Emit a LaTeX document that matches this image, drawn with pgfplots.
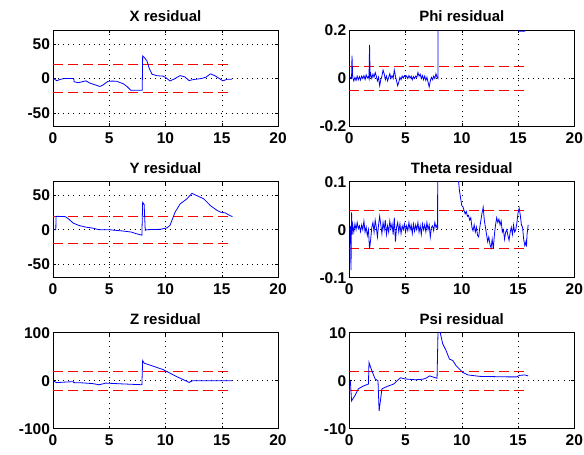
\documentclass[border=0pt]{standalone}
\usepackage{fontspec}
\setmainfont{Liberation Sans}
\usepackage{pgfplots}
\pgfplotsset{compat=1.18}
\pgfplotsset{
  resid/.style={
    scale only axis, width=225bp, height=96bp,
    xmin=0, xmax=20, xtick={0,5,10,15,20}, xticklabels={0,5,10,15,20},
    tick align=inside, major tick length=3bp,
    grid=major, major grid style={black, line width=0.5bp, dash pattern=on 0.6bp off 4.5bp},
    axis line style={line width=0.6bp},
    tick style={black, line width=0.5bp},
    every tick label/.append style={font=\fontsize{15.5bp}{18bp}\selectfont\bfseries},
    xticklabel style={yshift=-2.5bp},
    yticklabel style={xshift=0.5bp},
    title style={font=\fontsize{15bp}{18bp}\selectfont\bfseries, yshift=-1bp},
    anchor=south west,
  },
  bl/.style={blue, line width=0.8bp, no markers},
  rd/.style={red, line width=0.8bp, dash pattern=on 10bp off 5bp, no markers},
}
\begin{document}
\begin{tikzpicture}
\useasboundingbox (0,0) rectangle (584bp,455bp);
% X residual
\begin{axis}[resid, at={(53bp,328.5bp)}, ymin=-70, ymax=70, ytick={-50,0,50}, yticklabels={-50,0,50}, title={X residual}]
\addplot[rd] coordinates {(0,20) (16,20)};
\addplot[rd] coordinates {(0,-20) (16,-20)};
\addplot[bl] coordinates {(0,0) (0.15,-1) (0.33,-3.3) (0.6,-1.5) (1.0,0) (1.35,0) (1.75,0) (1.85,-0.5) (1.87,-4.7) (2.25,-6.2) (2.55,-5) (2.92,-3.4) (3.27,-6.7) (3.7,-9) (4.16,-11.6) (4.4,-10) (4.9,-4) (5.3,-3.8) (5.65,-4) (6.25,-7.7) (6.6,-12) (6.9,-17) (7.4,-17.2) (7.93,-17) (7.97,33) (8.1,31) (8.35,25.6) (8.55,15) (8.8,6.3) (9.25,4) (9.8,3.4) (10.0,1.6) (10.4,-3.6) (10.8,-0.5) (11.3,4.2) (11.7,2.5) (12.1,-3) (12.5,-1.5) (13.2,0) (13.6,2) (14.0,6.8) (14.4,4) (15.1,-3.4) (15.5,-1) (15.9,-1)};
\end{axis}
% Phi residual
\begin{axis}[resid, at={(349.3bp,328.5bp)}, ymin=-0.2, ymax=0.2, ytick={-0.2,0,0.2}, yticklabels={-0.2,0,0.2}, title={Phi residual}]
\addplot[rd] coordinates {(0,0.05) (16,0.05)};
\addplot[rd] coordinates {(0,-0.05) (16,-0.05)};
\addplot[bl] coordinates {(0,0) (0.1,0.005) (0.2,0) (0.24,0.095) (0.3,0.005) (0.4,-0.01) (0.5,0.005) (0.6,-0.008) (0.7,0.01) (0.8,-0.005) (0.9,0.008) (1.0,-0.006) (1.1,0.01) (1.2,0) (1.3,0.012) (1.4,-0.004) (1.5,0.015) (1.6,0.002) (1.7,0.008) (1.75,0) (1.8,0.14) (1.85,0.01) (1.9,0.02) (2.0,0) (2.1,0.018) (2.2,0.005) (2.3,0.025) (2.4,0.01) (2.5,-0.01) (2.6,0.005) (2.7,-0.03) (2.8,-0.005) (2.9,0.01) (3.0,0.035) (3.1,0.02) (3.2,-0.005) (3.3,0.01) (3.4,-0.01) (3.5,0.005) (3.6,0.02) (3.7,0) (3.8,0.012) (3.9,0) (4.0,0.035) (4.1,0.01) (4.2,-0.01) (4.3,-0.03) (4.4,-0.015) (4.5,0.005) (4.6,-0.005) (4.7,0.01) (4.8,0.002) (4.9,0.012) (5.0,0.005) (5.1,0.01) (5.2,0) (5.3,0.012) (5.4,0.002) (5.5,0.01) (5.6,-0.005) (5.7,0.008) (5.8,0) (5.9,0.01) (6.0,0.005) (6.1,0.025) (6.2,0.01) (6.3,0.018) (6.4,0) (6.5,0.012) (6.6,-0.005) (6.7,0.01) (6.8,-0.008) (6.9,0.005) (7.0,-0.015) (7.1,-0.035) (7.2,-0.01) (7.3,0.005) (7.4,-0.005) (7.5,0.01) (7.6,0) (7.7,0.02) (7.8,0.005) (7.88,0) (7.9,0.5) (10,0.5) (15.05,0.5) (15.07,0.197) (15.6,0.197) (15.62,0.5) (16,0.5)};
\end{axis}
% Y residual
\begin{axis}[resid, at={(53bp,177.3bp)}, ymin=-70, ymax=70, ytick={-50,0,50}, yticklabels={-50,0,50}, title={Y residual}]
\addplot[rd] coordinates {(0,20) (16,20)};
\addplot[rd] coordinates {(0,-20) (16,-20)};
\addplot[bl] coordinates {(0,0) (0.25,0) (0.27,19) (0.35,19.5) (1.1,19) (1.4,15.5) (1.8,9.6) (2.3,6.2) (2.9,3.8) (3.5,2.4) (4.1,0) (5.0,0) (5.6,-1) (6.2,-1.9) (6.95,-3.4) (7.4,-5.8) (7.9,-8) (7.97,40) (8.1,37) (8.2,-1) (8.3,0) (9.5,0.5) (10.1,2.4) (10.4,6.3) (10.85,25.5) (11.3,37.6) (11.9,45) (12.35,53) (12.8,49.6) (13.4,45) (14.0,35) (14.6,28) (14.9,25.5) (15.3,24.6) (15.8,20) (15.95,19.3)};
\end{axis}
% Theta residual
\begin{axis}[resid, at={(349.3bp,177.3bp)}, ymin=-0.1, ymax=0.1, ytick={-0.1,0,0.1}, yticklabels={-0.1,0,0.1}, title={Theta residual}]
\addplot[rd] coordinates {(0,0.04) (16,0.04)};
\addplot[rd] coordinates {(0,-0.04) (16,-0.04)};
\addplot[bl] coordinates {(0,0) (0.1,0.005) (0.15,-0.084) (0.2,0.036) (0.25,-0.01) (0.3,0.01) (0.4,-0.005) (0.5,0.012) (0.6,0) (0.7,0.015) (0.8,0.002) (0.9,0.008) (1.0,-0.004) (1.1,0.01) (1.2,0) (1.3,0.018) (1.4,-0.005) (1.5,0.005) (1.6,-0.012) (1.7,0) (1.8,-0.04) (1.9,-0.02) (2.0,0.005) (2.1,0.015) (2.2,-0.005) (2.3,0.02) (2.4,0.005) (2.5,-0.015) (2.6,0.01) (2.7,0.028) (2.8,0.01) (2.9,-0.008) (3.0,0.015) (3.1,0) (3.2,0.02) (3.3,-0.01) (3.4,0.008) (3.5,-0.005) (3.6,0.018) (3.7,0.002) (3.8,0.012) (3.9,-0.01) (4.0,0.025) (4.1,-0.025) (4.2,0.005) (4.3,0.015) (4.4,-0.005) (4.5,0.012) (4.6,-0.008) (4.7,0.008) (4.8,0) (4.9,0.012) (5.0,-0.005) (5.1,0.008) (5.2,-0.002) (5.3,0.015) (5.4,0) (5.5,0.01) (5.6,-0.008) (5.7,0.012) (5.8,-0.003) (5.9,0.01) (6.0,0) (6.1,0.015) (6.2,-0.005) (6.3,0.008) (6.4,-0.01) (6.5,0.012) (6.6,0) (6.7,0.01) (6.8,-0.004) (6.9,0.015) (7.0,0) (7.1,0.01) (7.2,-0.015) (7.3,0.005) (7.4,0.008) (7.5,-0.002) (7.6,0.015) (7.7,0.005) (7.8,0.01) (7.85,0) (7.87,0.5) (9.6,0.5) (9.67,0.11) (9.8,0.08) (9.9,0.065) (10.0,0.05) (10.1,0.048) (10.2,0.04) (10.3,0.033) (10.4,0.038) (10.5,0.028) (10.6,0.03) (10.7,0.02) (10.8,0.025) (10.9,0.005) (11.0,-0.002) (11.1,0.01) (11.2,-0.005) (11.3,0.005) (11.4,-0.012) (11.5,-0.015) (11.6,0.005) (11.7,0.02) (11.8,0.035) (11.9,0.047) (12.0,0.02) (12.1,0.005) (12.2,-0.01) (12.3,-0.025) (12.4,-0.015) (12.5,-0.03) (12.6,-0.038) (12.7,-0.02) (12.8,-0.04) (12.9,-0.01) (13.0,0.01) (13.1,0.025) (13.2,0.015) (13.3,0.022) (13.4,0.01) (13.5,0.018) (13.6,-0.005) (13.7,0) (13.8,-0.02) (13.9,-0.005) (14.0,0) (14.1,-0.012) (14.2,-0.022) (14.3,-0.005) (14.4,0.005) (14.5,-0.01) (14.6,0.01) (14.7,-0.005) (14.8,0) (14.9,0.015) (15.0,0.035) (15.1,0.045) (15.2,0.03) (15.3,0.01) (15.4,0.005) (15.5,-0.02) (15.6,-0.033) (15.7,-0.025) (15.75,-0.035) (15.8,-0.01) (15.9,0.01)};
\end{axis}
% Z residual
\begin{axis}[resid, at={(53bp,26.3bp)}, ymin=-100, ymax=100, ytick={-100,0,100}, yticklabels={-100,0,100}, title={Z residual}]
\addplot[rd] coordinates {(0,20) (16,20)};
\addplot[rd] coordinates {(0,-20) (16,-20)};
\addplot[bl] coordinates {(0,0) (0.3,-4) (1.0,-3) (1.8,-2) (1.85,-4) (2.6,-4.5) (3.5,-6) (4.1,-8.4) (4.7,-5) (6.0,-6.5) (7.9,-8.4) (7.97,42) (8.1,36.5) (9.0,29.5) (9.8,23) (11.0,8.4) (12.1,-3.5) (12.4,0) (14.0,0) (15.9,0)};
\end{axis}
% Psi residual
\begin{axis}[resid, at={(349.3bp,26.3bp)}, ymin=-10, ymax=10, ytick={-10,0,10}, yticklabels={-10,0,10}, title={Psi residual}]
\addplot[rd] coordinates {(0,2) (16,2)};
\addplot[rd] coordinates {(0,-2) (16,-2)};
\addplot[bl] coordinates {(0,0) (0.1,-0.2) (0.2,-4.2) (0.5,-3.1) (0.8,-1.7) (1.25,-1.1) (1.7,-0.7) (1.75,3.8) (2.0,2.1) (2.3,0.35) (2.55,0) (2.65,-6.3) (2.9,-1.7) (3.35,-1.2) (3.95,-0.7) (4.3,0.1) (4.55,0.6) (5.0,0.35) (5.9,0.2) (6.5,0.3) (6.8,0.5) (7.15,1) (7.4,0.8) (7.8,0.5) (7.9,12) (8.05,10.5) (8.1,9.8) (8.3,7.7) (8.6,6.3) (8.9,4.5) (9.2,4.2) (9.5,3.1) (9.8,2.4) (10.1,1.7) (10.55,1.2) (11.6,0.9) (14.0,0.8) (14.9,0.8) (15.1,1.1) (15.6,1.2) (15.9,1)};
\end{axis}
\end{tikzpicture}
\end{document}
